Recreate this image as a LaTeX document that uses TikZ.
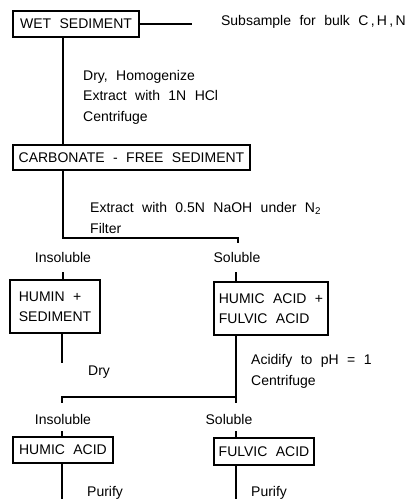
\documentclass[tikz,border=0pt]{standalone}
\usepackage{fontspec}
\setmainfont{Liberation Sans}
\usepackage{tikz}
\usetikzlibrary{positioning}
\newcommand{\flowfont}{\fontsize{14}{20.5}\selectfont\spaceskip=0.6em plus 0.1em\relax}
\tikzstyle{box}=[draw, line width=1.2pt, inner sep=0pt, font=\flowfont, align=left]
\tikzstyle{txt}=[inner sep=0pt, font=\flowfont, align=left]
\tikzstyle{lnk}=[line width=1.2pt]

\begin{document}
\begin{tikzpicture}[node distance=20pt,auto,x=1pt,y=-1pt]
\useasboundingbox (0,0) rectangle (409,499);
  \node[box, minimum width=126pt, minimum height=26pt] at (76,24) (wet) {WET SEDIMENT};
  \node[txt, anchor=east] at (406,22) (sub) {Subsample for bulk C\,,\,H\,,\,N};
  \coordinate (subend) at (192,24);
\draw[lnk] (wet.east) -- (subend);

  \node[txt, anchor=west] at (83,97) (step1) {Dry, Homogenize\\Extract with 1N HCl\\Centrifuge};
  \node[box, minimum width=237pt, minimum height=25pt] at (131.5,157.5) (carb) {CARBONATE - FREE SEDIMENT};
  \coordinate (split1) at (63,238);
  \coordinate (tick1) at (238,243);
\draw[lnk] (wet.south -| split1) -- (carb.north -| split1);

  \node[txt, anchor=west] at (90,218) (step2) {Extract with 0.5N NaOH under N\textsubscript{2}\\Filter};
\draw[lnk] (carb.south -| split1) -- (split1) -| (tick1);

  \node[txt] at (63,257) (ins1) {Insoluble};
  \node[txt, right of = ins1, node distance = 174pt] (sol1) {Soluble};

  \node[box, minimum width=90pt, minimum height=53pt] at (55,306.5) (humin) {HUMIN +\\SEDIMENT};
  \node[box, minimum width=114pt, minimum height=53pt] at (271,308.5) (humfulv) {HUMIC ACID +\\FULVIC ACID};
  \coordinate (split2) at (236,397);
\draw[lnk, shorten <=10pt] (ins1.south) -- (humin.north -| ins1);
\draw[lnk, shorten <=10pt] (sol1.south -| split2) -- (humfulv.north -| split2);

  % left branch stops at Dry
  \coordinate (dryend) at (62,363);
\draw[lnk] (humin.south -| dryend) -- (dryend);
  \node[txt, anchor=west] at (88,372) (dry) {Dry};

  \node[txt, anchor=west] at (251,371.5) (step3) {Acidify to pH = 1\\Centrifuge};
  \coordinate (tick2) at (62,403);
\draw[lnk] (humfulv.south -| split2) -- (split2 |- tick2);
\draw[lnk] (split2) -| (tick2);

  \node[txt] at (63,419) (ins2) {Insoluble};
  \node[txt, right of = ins2, node distance = 166pt] (sol2) {Soluble};

  \node[box, minimum width=100pt, minimum height=26pt] at (63,450) (humic) {HUMIC ACID};
  \node[box, minimum width=100pt, minimum height=27pt] at (264,451.5) (fulvic) {FULVIC ACID};
\draw[lnk, shorten <=7pt] (ins2.south -| tick2) -- (humic.north -| tick2);
\draw[lnk, shorten <=7pt] (sol2.south -| split2) -- (fulvic.north -| split2);

  \coordinate (bottom) at (0,499);
\draw[lnk] (humic.south -| tick2) -- (bottom -| tick2);
\draw[lnk] (fulvic.south -| split2) -- (bottom -| split2);
  \node[txt, anchor=west] at (87,493) (pur1) {Purify};
  \node[txt, anchor=west] at (251,493) (pur2) {Purify};
%\node[txt, below of = pur1] {...};
\end{tikzpicture}
\end{document}
